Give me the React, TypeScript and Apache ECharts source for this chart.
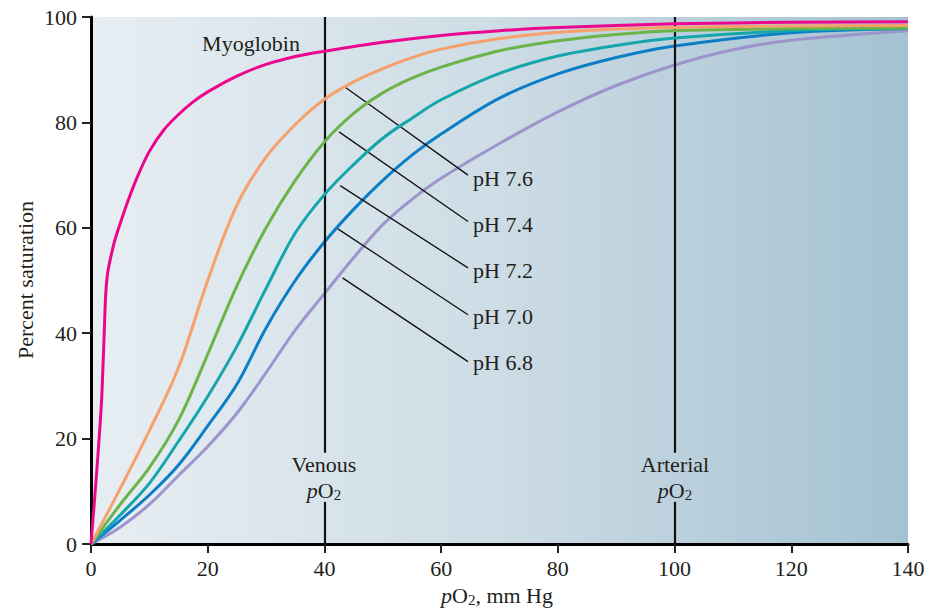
import React, { useEffect, useRef } from "react";
import * as echarts from "echarts";

const FONT = "'Liberation Serif', 'Times New Roman', serif";
const TEXT = "#231f20";
const FS = 22;

const xTicks = [0, 20, 40, 60, 80, 100, 120, 140];
const yTicks = [0, 20, 40, 60, 80, 100];

const myoglobin: number[][] = [
  [0, 0], [1, 14], [1.8, 27], [2.2, 38], [2.5, 47], [2.8, 51], [3.3, 54], [4, 57.3], [5, 60.8],
  [6.3, 65], [8, 69.8], [10, 74.5], [12.5, 78.6], [15, 81.5], [17.5, 83.9], [20, 85.8],
  [25, 88.8], [30, 91], [35, 92.5], [40, 93.5], [50, 95.2], [60, 96.5], [70, 97.4], [80, 98],
  [100, 98.7], [120, 99], [140, 99.1],
];
const ph76: number[][] = [
  [0, 0], [5, 10.5], [10, 21.5], [15, 33.5], [20, 50], [25, 64.3], [30, 73.4], [35, 79.6],
  [40, 84.4], [45, 87.7], [50, 90.2], [55, 92.3], [60, 93.9], [70, 95.9], [80, 97.1], [90, 97.7],
  [100, 98], [120, 98.3], [140, 98.4],
];
const ph74: number[][] = [
  [0, 0], [5, 7.5], [10, 14.5], [15, 23.5], [20, 36], [25, 49], [30, 60], [35, 69], [40, 76.3],
  [45, 81.7], [50, 85.6], [55, 88.4], [60, 90.5], [70, 93.6], [80, 95.5], [90, 96.7], [100, 97.4],
  [120, 97.8], [140, 97.9],
];
const ph72: number[][] = [
  [0, 0], [5, 5.5], [10, 11.5], [15, 19.5], [20, 28], [25, 37.5], [30, 48.5], [35, 59],
  [40, 66.3], [45, 72], [50, 77], [55, 80.8], [60, 84.3], [70, 89.3], [80, 92.6], [90, 94.6],
  [100, 96], [120, 97.4], [140, 97.8],
];
const ph70: number[][] = [
  [0, 0], [5, 4.5], [10, 9.3], [15, 15], [20, 22.4], [25, 30.3], [30, 41], [35, 50], [40, 57.3],
  [45, 63.5], [50, 69], [55, 73.8], [60, 77.8], [70, 84.6], [80, 89.2], [90, 92.3], [100, 94.5],
  [120, 97], [140, 97.8],
];
const ph68: number[][] = [
  [0, 0], [5, 3.2], [10, 7.5], [15, 13], [20, 18.5], [25, 24.8], [30, 32.5], [35, 40.6],
  [40, 47.5], [45, 54.3], [50, 60.6], [55, 65.4], [60, 69.4], [70, 76], [80, 82], [90, 87],
  [100, 90.9], [110, 93.8], [120, 95.6], [140, 97.4],
];

const curveNames = ["pH 6.8", "pH 7.0", "pH 7.2", "pH 7.4", "pH 7.6", "Myoglobin"];
const curveData = [ph68, ph70, ph72, ph74, ph76, myoglobin];
const curveColors = ["#9d94cc", "#0b7ec6", "#14a6aa", "#6cb34a", "#f7a06b", "#ec068d"];

// leader lines from curve to pH label (data coordinates)
const leaderLines: number[][][] = [
  [[43.5, 86.7], [64.6, 70.0]],
  [[42.5, 78.2], [64.6, 61.2]],
  [[42.7, 68.0], [64.6, 52.4]],
  [[42.3, 59.8], [64.6, 43.5]],
  [[43.1, 50.5], [64.6, 34.6]],
];
const phLabels = ["pH 7.6", "pH 7.4", "pH 7.2", "pH 7.0", "pH 6.8"];
const phLabelY = [178, 224, 270, 316, 362];

// vertical reference lines (venous / arterial), broken around the labels
const refX = [40, 100];
const refGapLow = 8;
const refGapHigh = 17.3;

export default function App() {
  const ref = useRef<HTMLDivElement>(null);
  useEffect(() => {
    if (!ref.current) return;
    const chart = echarts.init(ref.current, undefined, { renderer: "svg" });

    const series: any[] = curveData.map((d, i) => ({
      name: curveNames[i],
      type: "line",
      data: d,
      showSymbol: false,
      symbol: "none",
      smooth: i === 5 ? 0.25 : 0.35,
      lineStyle: { color: curveColors[i], width: 3 },
      z: 3 + i,
      silent: true,
    }));

    const refSegments: any[] = [];
    refX.forEach((x) => {
      refSegments.push([{ coord: [x, 0] }, { coord: [x, refGapLow] }]);
      refSegments.push([{ coord: [x, refGapHigh] }, { coord: [x, 100] }]);
    });

    series.push({
      type: "line",
      data: [],
      silent: true,
      z: 20,
      markLine: {
        silent: true,
        symbol: ["none", "none"],
        label: { show: false },
        lineStyle: { color: "#111", width: 2.2, type: "solid" },
        data: refSegments,
      },
    });
    series.push({
      type: "line",
      data: [],
      silent: true,
      z: 20,
      markLine: {
        silent: true,
        symbol: ["none", "none"],
        label: { show: false },
        lineStyle: { color: "#111", width: 1.3, type: "solid" },
        data: leaderLines.map((l) => [{ coord: l[0] }, { coord: l[1] }]),
      },
    });

    const po2Rich = {
      i: { fontFamily: FONT, fontSize: FS, fontStyle: "italic", fill: TEXT, color: TEXT },
      n: { fontFamily: FONT, fontSize: FS, fill: TEXT, color: TEXT },
      s: { fontFamily: FONT, fontSize: 15, fill: TEXT, color: TEXT, padding: [10, 0, 0, 0] },
    };

    const textStyle = (text: string, extra: any = {}) => ({
      text,
      fontFamily: FONT,
      fontSize: FS,
      fill: TEXT,
      ...extra,
    });

    const graphics: any[] = [
      {
        type: "text",
        x: 251,
        y: 43,
        style: textStyle("Myoglobin", { align: "center", verticalAlign: "middle" }),
      },
      ...phLabels.map((t, i) => ({
        type: "text",
        x: 473,
        y: phLabelY[i],
        style: textStyle(t, { align: "left", verticalAlign: "middle" }),
      })),
      {
        type: "text",
        x: 324,
        y: 464,
        style: textStyle("Venous", { align: "center", verticalAlign: "middle" }),
      },
      {
        type: "text",
        x: 324,
        y: 490,
        style: {
          text: "{i|p}{n|O}{s|2}",
          rich: po2Rich,
          align: "center",
          verticalAlign: "middle",
        },
      },
      {
        type: "text",
        x: 675,
        y: 464,
        style: textStyle("Arterial", { align: "center", verticalAlign: "middle" }),
      },
      {
        type: "text",
        x: 675,
        y: 490,
        style: {
          text: "{i|p}{n|O}{s|2}",
          rich: po2Rich,
          align: "center",
          verticalAlign: "middle",
        },
      },
      {
        type: "text",
        x: 497,
        y: 595,
        style: {
          text: "{i|p}{n|O}{s|2}{n|, mm Hg}",
          rich: po2Rich,
          align: "center",
          verticalAlign: "middle",
        },
      },
      {
        type: "text",
        x: 25,
        y: 280,
        rotation: Math.PI / 2,
        style: textStyle("Percent saturation", { align: "center", verticalAlign: "middle" }),
      },
    ];

    chart.setOption({
      animation: false,
      backgroundColor: "#ffffff",
      grid: {
        left: 91,
        right: 25,
        top: 17,
        bottom: 65,
        show: true,
        borderWidth: 0,
        backgroundColor: new echarts.graphic.LinearGradient(0, 0, 1, 0, [
          { offset: 0, color: "#e7eef3" },
          { offset: 0.5, color: "#cddce5" },
          { offset: 1, color: "#a4c2d1" },
        ]),
      },
      xAxis: {
        type: "value",
        min: xTicks[0],
        max: xTicks[xTicks.length - 1],
        interval: 20,
        axisLine: { show: true, onZero: false, lineStyle: { color: "#000", width: 3 } },
        axisTick: { show: true, length: 9, lineStyle: { color: "#222", width: 2 } },
        splitLine: { show: false },
        axisLabel: { fontFamily: FONT, fontSize: FS, color: TEXT, margin: 13 },
      },
      yAxis: {
        type: "value",
        min: yTicks[0],
        max: yTicks[yTicks.length - 1],
        interval: 20,
        axisLine: { show: true, onZero: false, lineStyle: { color: "#000", width: 3 } },
        axisTick: { show: true, length: 9, lineStyle: { color: "#222", width: 2 } },
        splitLine: { show: false },
        axisLabel: { fontFamily: FONT, fontSize: FS, color: TEXT, margin: 14 },
      },
      series,
      graphic: graphics,
    });

    return () => chart.dispose();
  }, []);

  return (
    <div
      ref={ref}
      style={{ position: "fixed", left: 0, top: 0, width: 933, height: 609 }}
    />
  );
}
